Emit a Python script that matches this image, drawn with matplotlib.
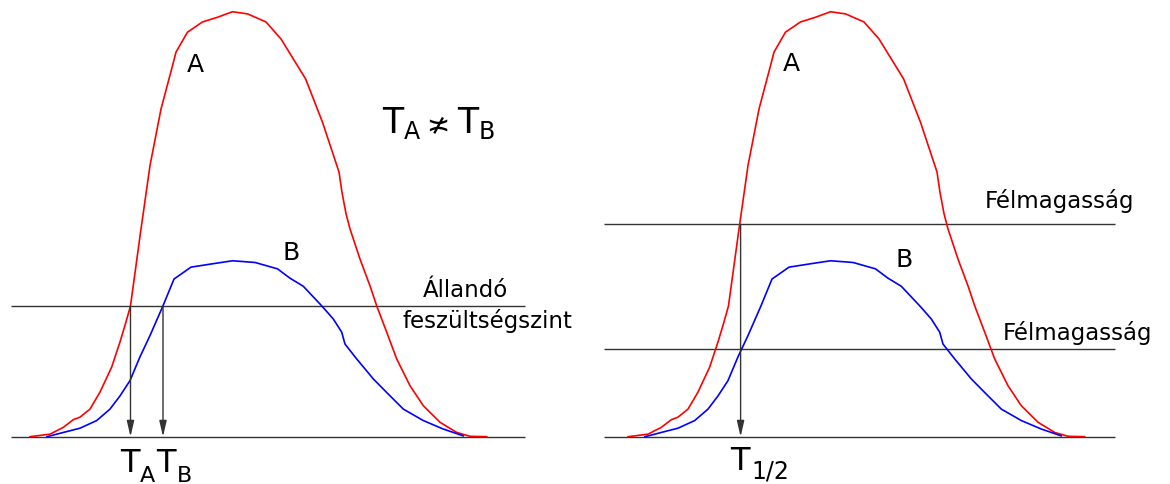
import matplotlib
matplotlib.use("Agg")
import matplotlib.pyplot as plt

# pulse A (red) and pulse B (blue): time, amplitude (A peak = 100)
time_a = [30, 50, 63.3, 73.3, 80, 90, 100, 111.7, 120, 126, 130.5, 140.6, 150,
          161, 172.5, 176, 187.5, 202.5, 217.5, 232.5, 247.5, 266, 281, 305.6,
          322.5, 339, 342, 346, 350, 360, 370, 376.7, 386.7, 396.7, 410, 423.3,
          440, 456.7, 470, 486.7]
amp_a = [0, 0.6, 2.2, 4.0, 4.6, 6.5, 10.5, 16.4, 22.3, 27.0, 30.8, 48.2, 63.8,
         77.1, 87.3, 90.5, 95.2, 97.6, 98.7, 100, 99.5, 97.6, 93.6, 84.2,
         74.0, 62.3, 57.5, 52.5, 48.9, 41.8, 35.5, 30.8, 24.6, 18.3, 12.0, 7.3,
         3.4, 1.0, 0.1, 0]

time_b = [47, 63.3, 80, 96.7, 110, 120, 130, 140, 150, 163, 174, 191, 210,
          232.5, 255, 277.5, 290, 303.3, 321.7, 333.3, 341.7, 345, 356.7,
          373.3, 386.7, 403.3, 423.3, 443.3, 463.3]
amp_b = [0, 1.0, 2.0, 3.8, 6.5, 9.6, 13.2, 18.8, 23.8, 30.8, 37.1, 39.9, 40.6,
         41.4, 41.0, 39.5, 37.3, 35.4, 30.8, 27.7, 24.6, 21.8, 18.3,
         13.6, 10.4, 6.5, 3.8, 1.8, 0.2]

# left panel: constant voltage level and crossing times
level = 30.8
t_cross_a = 130.5
t_cross_b = 163

# right panel: half heights and common crossing time
half_a = 50.0
half_b = 20.6
t_half = 142.6

line_col = "#333333"
plt.rcParams["font.family"] = ["DejaVu Sans"]

fig = plt.figure(figsize=(11.7, 4.85), dpi=100)
ax1 = fig.add_axes([0, 0, 0.5, 1])
ax2 = fig.add_axes([0.5, 0, 0.5, 1])

ax1.set_xlim(0, 585)
ax2.set_xlim(-13, 572)
for ax in (ax1, ax2):
    ax.set_ylim(-11.13, 103.0)
    ax.axis("off")
    ax.plot(time_a, amp_a, color="#ff0000", lw=1.2, zorder=3)
    ax.plot(time_b, amp_b, color="#0000ff", lw=1.2, zorder=3)

arrow = dict(arrowstyle="-|>,head_length=0.95,head_width=0.22",
             color=line_col, lw=1.0, mutation_scale=10, shrinkA=0, shrinkB=0)


def t_label(ax, x, y, sub, x_sub, y_sub, size=24, sub_size=17):
    ax.text(x, y, "T", fontsize=size, ha="left", va="baseline", clip_on=False)
    ax.text(x_sub, y_sub, sub, fontsize=sub_size, ha="left", va="baseline",
            clip_on=False)


# left panel
ax1.hlines([0, level], 11, 525, color=line_col, lw=1.0)
for t in (t_cross_a, t_cross_b):
    ax1.annotate("", xy=(t, 0), xytext=(t, level), arrowprops=arrow)
ax1.text(195, 87.7, "A", fontsize=18, ha="center", va="center")
ax1.text(291, 43.4, "B", fontsize=18, ha="center", va="center")

t_label(ax1, 382, 71.6, "A", 404, 70.2, size=25, sub_size=17)
ax1.text(438, 71.6, "≭", fontsize=20, ha="center", va="baseline")
t_label(ax1, 457, 71.6, "B", 479, 70.2, size=25, sub_size=17)

ax1.text(465, 33.2, "Állandó", fontsize=16.5, ha="center", va="baseline")
ax1.text(487, 25.8, "feszültségszint", fontsize=16.5, ha="center",
         va="baseline", clip_on=False)

t_label(ax1, 120, -8.0, "A", 140, -10.4, size=23, sub_size=16)
t_label(ax1, 156.5, -8.0, "B", 176.5, -10.4, size=23, sub_size=16)

# right panel
ax2.hlines([0, half_b, half_a], 6, 517, color=line_col, lw=1.0)
ax2.annotate("", xy=(t_half, 0), xytext=(t_half, half_a), arrowprops=arrow)
ax2.text(193, 88, "A", fontsize=18, ha="center", va="center")
ax2.text(306, 41.8, "B", fontsize=18, ha="center", va="center")
ax2.text(387, 54.0, "Félmagasság", fontsize=16.5, ha="left", va="baseline")
ax2.text(405, 23.0, "Félmagasság", fontsize=16.5, ha="left", va="baseline",
         clip_on=False)
t_label(ax2, t_half - 10, -7.6, "1/2", 153, -9.6, size=23, sub_size=17)

fig.savefig("out.png", dpi=100)
